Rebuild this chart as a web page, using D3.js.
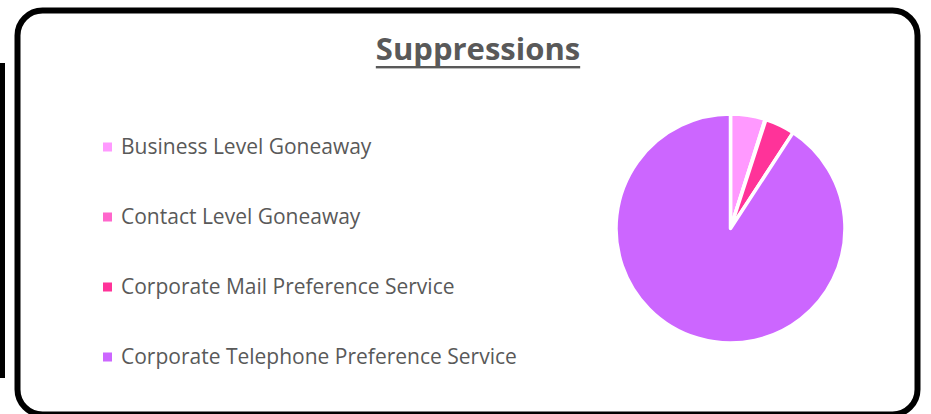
<!DOCTYPE html>
<html>
<head>
<meta charset="utf-8">
<script src="https://cdn.jsdelivr.net/npm/d3@7"></script>
<style>
  body { margin: 0; background: #fff; }
  svg { display: block; }
  text { font-family: "Open Sans", sans-serif; fill: #595959; }
</style>
</head>
<body>
<svg id="chart" width="931" height="414"></svg>
<script>
// suppression categories and their share (%)
const categories = [
  'Business Level Goneaway',
  'Contact Level Goneaway',
  'Corporate Mail Preference Service',
  'Corporate Telephone Preference Service'
];
const values = [4.9, 0.1, 4.2, 90.8];
const colors = ['#ff99ff', '#ff66cc', '#ff3399', '#cc66ff'];
const title = 'Suppressions';

const svg = d3.select('#chart');

// frame
svg.append('rect')
   .attr('x', 0).attr('y', 63)
   .attr('width', 5).attr('height', 315)
   .attr('fill', '#000');

svg.append('rect')
   .attr('x', 17.5).attr('y', 10.5)
   .attr('width', 900).attr('height', 404)
   .attr('rx', 25).attr('ry', 25)
   .attr('fill', '#fff')
   .attr('stroke', '#000')
   .attr('stroke-width', 6);

// title
const t = svg.append('text')
   .attr('x', 478).attr('y', 60)
   .attr('text-anchor', 'middle')
   .style('font-size', '31px')
   .style('font-weight', 'bold')
   .text(title);
const tw = t.node().getComputedTextLength();
svg.append('rect')
   .attr('x', 478 - tw / 2).attr('y', 66)
   .attr('width', tw).attr('height', 2.4)
   .attr('fill', '#595959');

// legend
const legendY = d3.scalePoint()
   .domain(categories)
   .range([147, 357]);

const legend = svg.selectAll('g.item')
   .data(categories)
   .enter()
   .append('g')
   .attr('class', 'item')
   .attr('transform', (d) => `translate(103, ${legendY(d)})`);

legend.append('rect')
   .attr('x', 0).attr('y', -4.5)
   .attr('width', 9).attr('height', 9)
   .attr('fill', (d, i) => colors[i]);

legend.append('text')
   .attr('x', 18).attr('y', 7)
   .style('font-size', '21px')
   .text((d) => d);

// pie
const pie = d3.pie().sort(null).value((d) => d);
const arc = d3.arc().innerRadius(0).outerRadius(114.5);

svg.append('g')
   .attr('transform', 'translate(730.5, 228.5)')
   .selectAll('path')
   .data(pie(values))
   .enter()
   .append('path')
   .attr('d', arc)
   .attr('fill', (d, i) => colors[i])
   .attr('stroke', '#fff')
   .attr('stroke-width', 3.5)
   .attr('stroke-linejoin', 'round');
</script>
</body>
</html>
